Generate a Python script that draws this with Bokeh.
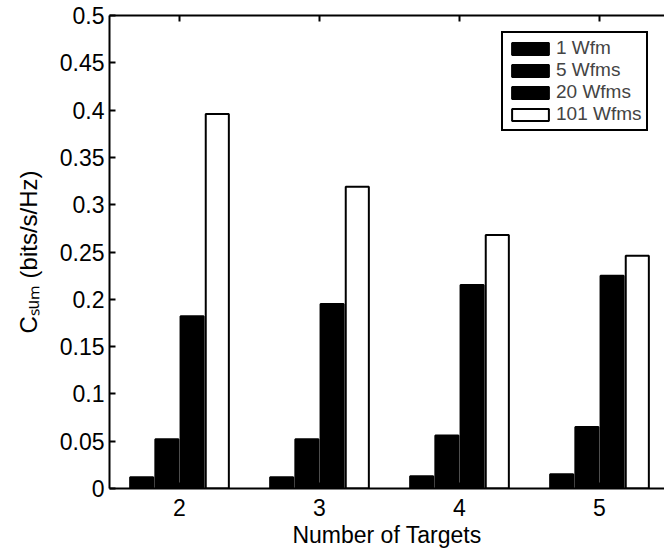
import math
from bokeh.plotting import figure
from bokeh.models import (Range1d, FixedTicker, LinearAxis, Legend, LegendItem,
                          ColumnDataSource)
from bokeh.embed import file_html
from bokeh.resources import INLINE

# ---- data ----
targets = [2, 3, 4, 5]
series_names = ["1 Wfm", "5 Wfms", "20 Wfms", "101 Wfms"]
wfm1 = [0.012, 0.012, 0.013, 0.015]
wfm5 = [0.052, 0.052, 0.056, 0.065]
wfm20 = [0.182, 0.195, 0.215, 0.225]
wfm101 = [0.396, 0.319, 0.268, 0.246]
y_ticks = [0, 0.05, 0.1, 0.15, 0.2, 0.25, 0.3, 0.35, 0.4, 0.45, 0.5]
y_tick_labels = ["0", "0.05", "0.1", "0.15", "0.2", "0.25", "0.3", "0.35", "0.4", "0.45", "0.5"]
x_label = "Number of Targets"
y_label = "C\u209b\u1d64\u2098 (bits/s/Hz)"

series_values = [wfm1, wfm5, wfm20, wfm101]
fills = ["black", "black", "black", "white"]
offsets = [-0.27, -0.09, 0.09, 0.27]
bar_w = 0.165

FONT = "Liberation Sans"

p = figure(width=664, height=550, output_backend="svg", toolbar_location=None,
           x_range=Range1d(1.5, 5.4643), y_range=Range1d(0, 0.5),
           min_border_left=109, min_border_right=0, min_border_top=15,
           min_border_bottom=62, outline_line_color=None)
p.xgrid.visible = False
p.ygrid.visible = False

renderers = []
for vals, fc, off in zip(series_values, fills, offsets):
    src = ColumnDataSource(dict(x=[t + off for t in targets], top=vals))
    r = p.vbar(x="x", top="top", width=bar_w, bottom=0, source=src,
               fill_color=fc, line_color="black", line_width=2)
    renderers.append(r)

# axes
for ax in (p.xaxis[0], p.yaxis[0]):
    ax.major_tick_in = 6
    ax.major_tick_out = 0
    ax.minor_tick_line_color = None
    ax.axis_line_width = 2
    ax.major_tick_line_width = 2
    ax.major_label_text_font = FONT
    ax.major_label_text_font_size = "23px"
    ax.major_label_text_color = "black"
    ax.axis_line_color = "black"
    ax.axis_label_text_font = FONT
    ax.axis_label_text_font_style = "normal"
    ax.axis_label_text_color = "black"

p.xaxis.ticker = FixedTicker(ticks=targets)
p.xaxis.major_label_standoff = 10
p.xaxis.axis_label = x_label
p.xaxis.axis_label_text_font_size = "23px"
p.xaxis.axis_label_standoff = 3

p.yaxis.ticker = FixedTicker(ticks=y_ticks)
p.yaxis.major_label_overrides = {t: s for t, s in zip(y_ticks, y_tick_labels)}
p.yaxis.major_label_standoff = 5
p.yaxis.axis_label = y_label
p.yaxis.axis_label_text_font_size = "24px"
p.yaxis.axis_label_standoff = 15

top_ax = LinearAxis(ticker=FixedTicker(ticks=targets), major_tick_in=6, major_tick_out=0,
                    minor_tick_line_color=None, axis_line_width=2, major_tick_line_width=2,
                    major_label_text_font_size="1px", major_label_text_color=None,
                    major_label_standoff=0)
p.add_layout(top_ax, "above")

legend = Legend(items=[LegendItem(label=n, renderers=[r]) for n, r in zip(series_names, renderers)],
                location=(392, 357), spacing=0, padding=4, margin=0,
                glyph_width=46, glyph_height=15, label_height=18, label_standoff=3,
                label_text_font=FONT, label_text_font_size="19px",
                border_line_color="black", border_line_width=2, border_line_alpha=1.0,
                background_fill_alpha=1.0)
p.add_layout(legend, "center")

open("out.html", "w").write(file_html(p, INLINE))
